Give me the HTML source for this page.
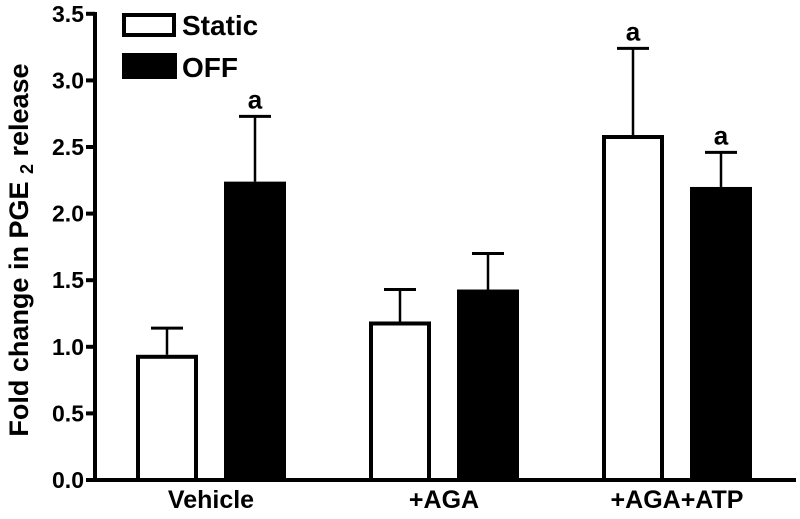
<!DOCTYPE html>
<html><head><meta charset="utf-8"><style>
html,body{margin:0;padding:0;background:#fff;}
svg{display:block;font-family:"Liberation Sans",Arial,sans-serif;font-weight:bold;}
</style></head><body>
<svg id="chart" width="800" height="519" viewBox="0 0 800 519">
<g id="plot"></g>
</svg>
<script>
const categories = ["Vehicle", "+AGA", "+AGA+ATP"];
const staticValues = [0.94, 1.19, 2.59];
const staticErrors = [0.20, 0.24, 0.65];
const offValues = [2.24, 1.43, 2.20];
const offErrors = [0.49, 0.27, 0.26];
const offSig = ["a", "", "a"];
const staticSig = ["", "", "a"];
const yTicks = [0, 0.5, 1.0, 1.5, 2.0, 2.5, 3.0, 3.5];
const yTickLabels = ["0.0","0.5","1.0","1.5","2.0","2.5","3.0","3.5"];

const NS = "http://www.w3.org/2000/svg";
const g = document.getElementById("plot");
const y0 = 480, yScale = 133.2;
function y(v){ return y0 - v * yScale; }
function xc(i){ return 211 + i * 233; }
function mk(tag, attrs){ const e = document.createElementNS(NS, tag); for (const k in attrs) e.setAttribute(k, attrs[k]); g.appendChild(e); return e; }

const barW = 62;
function drawBar(i, v, err, sig, filled, name){
  const cx = xc(i) + (filled ? 44 : -44);
  const top = y(v), ey = y(v + err);
  let l = mk("line", {x1:cx, x2:cx, y1:top, y2:ey, stroke:"#000", "stroke-width":2.5});
  
  
  let c = mk("line", {x1:cx-16, x2:cx+16, y1:ey, y2:ey, stroke:"#000", "stroke-width":3});
  
  
  let r;
  if (filled) {
    r = mk("rect", {x:cx-barW/2, y:top, width:barW, height:y0-top, fill:"#000"});
  } else {
    r = mk("rect", {x:cx-barW/2+2, y:top+2, width:barW-4, height:y0-top-2, fill:"#fff", stroke:"#000", "stroke-width":4});
  }
  
  
  if (sig) {
    let t = mk("text", {x:cx, y:ey-8, "text-anchor":"middle", "font-size":26});
    t.textContent = sig;
    
    
  }
}
categories.forEach((c, i) => {
  drawBar(i, staticValues[i], staticErrors[i], staticSig[i], false, 'bar-static-' + i);
  drawBar(i, offValues[i], offErrors[i], offSig[i], true, 'bar-off-' + i);
  let t = mk("text", {x:xc(i), y:508, "text-anchor":"middle", "font-size":25});
  t.textContent = c;
  
  
});

let ya = mk("line", {x1:95, x2:95, y1:12, y2:482, stroke:"#000", "stroke-width":4});


let xa = mk("line", {x1:93, x2:796, y1:480, y2:480, stroke:"#000", "stroke-width":4});


yTicks.forEach((v, i) => {
  let tk = mk("line", {x1:86, x2:95, y1:y(v), y2:y(v), stroke:"#000", "stroke-width":4});
  
  
  let t = mk("text", {x:84, y:y(v)+8, "text-anchor":"end", "font-size":23});
  t.textContent = yTickLabels[i];
  
  
});
let yt = mk("text", {x:0, y:0, "text-anchor":"middle", "font-size":27, transform:"translate(28,250) rotate(-90)"});
yt.innerHTML = 'Fold change in PGE <tspan font-size="18" dy="5">2</tspan><tspan dy="-5"> release</tspan>';



let lb1 = mk("rect", {x:124, y:15, width:50, height:20, fill:"#fff", stroke:"#000", "stroke-width":4});


let lt1 = mk("text", {x:182, y:35, "font-size":28});
lt1.textContent = "Static";


let lb2 = mk("rect", {x:122, y:53, width:55, height:26, fill:"#000"});


let lt2 = mk("text", {x:182, y:77, "font-size":28});
lt2.textContent = "OFF";


</script>
</body></html>
